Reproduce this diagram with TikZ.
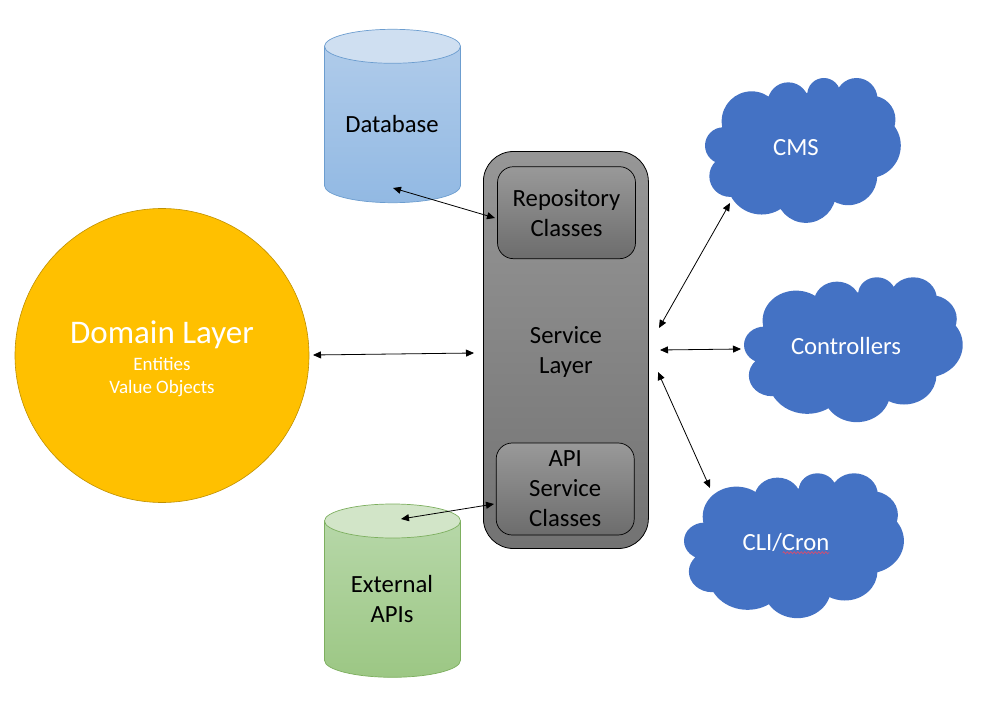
\documentclass[tikz,border=0pt]{standalone}
\usepackage{fontspec}
\setmainfont{Carlito}
\usetikzlibrary{shapes.geometric, arrows.meta, decorations.pathmorphing}
\definecolor{cloudblue}{HTML}{4472C4}
\definecolor{domainyellow}{HTML}{FFC000}
\definecolor{dbedge}{HTML}{6C9DCF}
\definecolor{dbtopcol}{HTML}{AFCBEA}
\definecolor{dbbottomcol}{HTML}{92B9E3}
\definecolor{dblid}{HTML}{CFDFF1}
\definecolor{extedge}{HTML}{7DAF5F}
\definecolor{exttopcol}{HTML}{B6D7A8}
\definecolor{extbottomcol}{HTML}{9CC784}
\definecolor{extlid}{HTML}{D2E5C8}
\definecolor{squiggle}{HTML}{C85078}
\tikzset{
    label24/.style={font=\fontsize{24.7}{30}\selectfont, align=center},
    tank/.style={line width=0.7},
    lid/.style={ellipse, minimum width=136, minimum height=34, inner sep=0, line width=0.7},
    layerbox/.style={draw=black, rounded corners=30, minimum width=165, minimum height=397, outer sep=0, line width=0.8, top color=gray!82, bottom color=gray!90!black},
    innerbox/.style={draw=black, rounded corners=16, minimum width=138, minimum height=92, outer sep=0, line width=0.7, top color=gray!80, bottom color=gray!85!black, label24},
    cloudtext/.style={text=white, label24},
    link/.style={<->, >={Stealth[inset=0, length=8, width=7]}, line width=0.8},
    puffs/.pic={
        \fill[cloudblue, shift={(-75,-55)}]
            (380,270) circle[radius=170]
            (210,270) circle[radius=70]
            (130,258) circle[radius=55]
            (150,350) circle[radius=62]
            (245,360) circle[radius=105]
            (378,400) circle[radius=90]
            (505,350) circle[radius=87]
            (565,258) circle[radius=98]
            (575,180) circle[radius=72]
            (530,118) circle[radius=63]
            (432,105) circle[radius=50]
            (325,130) circle[radius=62]
            (215,185) circle[radius=90];
    }
}
\begin{document}
\begin{tikzpicture}[x=1pt, y=-1pt]
    \useasboundingbox (0,0) rectangle (989,701);
    % Domain layer
    \node[circle, draw=domainyellow!75!black, fill=domainyellow, minimum size=294, inner sep=0, outer sep=0, line width=0.6] (domain) at (162,355.5) {};
    \node[text=white, font=\fontsize{33}{38}\selectfont] (domaintitle) at (162,334.5) {Domain Layer};
    \node[text=white, font=\fontsize{19}{23}\selectfont, align=center] (domainsub) at (162,377.5) {Entities\\Value Objects};
    % Database
    \draw[tank, draw=dbedge, top color=dbtopcol, bottom color=dbbottomcol] (324.5,46.3) -- (324.5,185.7) arc[start angle=180, end angle=0, x radius=68, y radius=17] -- (460.5,46.3) -- cycle;
    \node[lid, draw=dbedge, fill=dblid] (dbtop) at (392.5,46.3) {};
    \node[label24] (dbtext) at (392,124) {Database};
    % External APIs
    \draw[tank, draw=extedge, top color=exttopcol, bottom color=extbottomcol] (324.5,521) -- (324.5,660.3) arc[start angle=180, end angle=0, x radius=68, y radius=17] -- (460.5,521) -- cycle;
    \node[lid, draw=extedge, fill=extlid] (exttop) at (392.5,521) {};
    \node[label24] (exttext) at (392,599) {External\\APIs};
    % Service layer
    \node[layerbox] (service) at (565.9,350) {};
    \node[label24] (servicetext) at (566,351.5) {Service\\Layer};
    \node[innerbox] (repo) at (566.5,212.7) {Repository\\Classes};
    \node[innerbox] (api) at (565.2,489) {API\\Service\\Classes};
    % Clouds
    \pic[xscale=0.333, yscale=0.333] at (705,78) {puffs};
    \node[cloudtext] (cms) at (796,148) {CMS};
    \pic[xscale=0.372, yscale=0.333] at (744,277.3) {puffs};
    \node[cloudtext] (controllers) at (846,346) {Controllers};
    \pic[xscale=0.374, yscale=0.333] at (684,473.3) {puffs};
    \node[cloudtext] (cli) at (786,542) {CLI/Cron};
    % Spelling squiggle
    \draw[squiggle, line width=0.8, decorate, decoration={snake, amplitude=1, segment length=3.5}] (782.7,552.7) -- (829.3,552.7);
    % Connector ends
    \coordinate (domainend) at (313,355);
    \coordinate (serviceleft) at (474,353);
    \coordinate (dbend) at (393,188);
    \coordinate (repoend) at (495,218);
    \coordinate (extend) at (401,519);
    \coordinate (apiend) at (494,504);
    \coordinate (cmsend) at (730,203);
    \coordinate (serviceupper) at (659,328);
    \coordinate (ctrlend) at (741,349);
    \coordinate (servicemid) at (660,350);
    \coordinate (cliend) at (710,488);
    \coordinate (servicelower) at (658,372);
    % Arrows
    \draw[link] (domainend) -- (serviceleft);
    \draw[link] (dbend) -- (repoend);
    \draw[link] (extend) -- (apiend);
    \draw[link] (serviceupper) -- (cmsend);
    \draw[link] (servicemid) -- (ctrlend);
    \draw[link] (servicelower) -- (cliend);
\end{tikzpicture}
\end{document}
